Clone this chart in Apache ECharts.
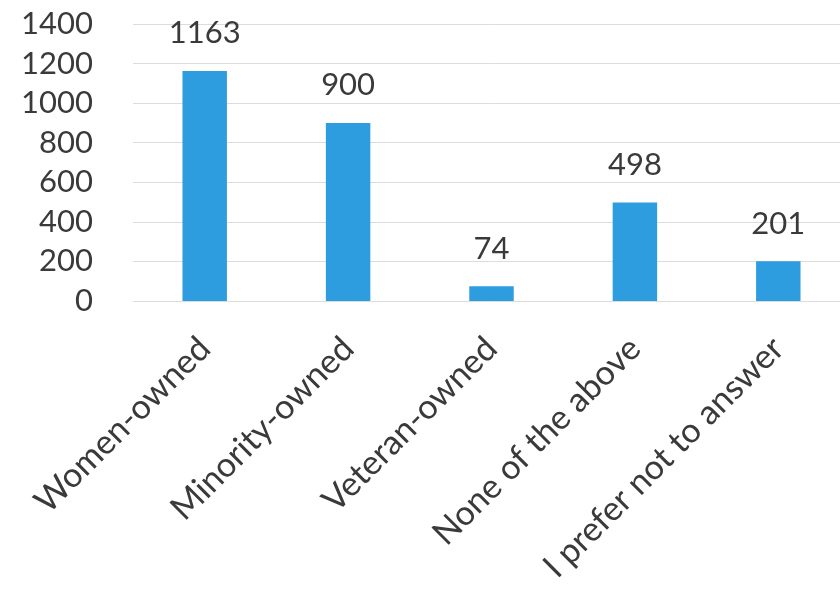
<!DOCTYPE html>
<html>
<head>
<meta charset="utf-8">
<script src="https://cdn.jsdelivr.net/npm/echarts@6/dist/echarts.min.js"></script>
<style>
  html, body { margin: 0; padding: 0; background: #fff; overflow: hidden; }
  #chart { width: 850px; height: 589px; }
</style>
</head>
<body>
<div id="chart"></div>
<script>
  // data
  const categories = ['Women-owned', 'Minority-owned', 'Veteran-owned', 'None of the above', 'I prefer not to answer']
  const counts = [1163, 900, 74, 498, 201]
  const yTicks = [0, 200, 400, 600, 800, 1000, 1200, 1400]

  const font = 'Lato, "Open Sans", sans-serif'
  const textColor = '#3a3a3a'

  let myChart = echarts.init(document.getElementById('chart'))
  myChart.setOption({
    animation: false,
    grid: {
      left: 133,
      right: 0,
      top: 24,
      bottom: 288
    },
    xAxis: {
      type: 'category',
      data: categories,
      axisLine: { show: false },
      axisTick: { show: false },
      axisLabel: {
        rotate: 45,
        margin: 42,
        interval: 0,
        color: textColor,
        fontFamily: font,
        fontSize: 34
      }
    },
    yAxis: {
      type: 'value',
      min: yTicks[0],
      max: yTicks[yTicks.length - 1],
      interval: 200,
      axisLine: { show: false },
      axisTick: { show: false },
      splitLine: {
        lineStyle: { color: '#dcdcdc', width: 1 }
      },
      axisLabel: {
        margin: 40,
        color: textColor,
        fontFamily: font,
        fontSize: 31,
        formatter: v => String(v)
      }
    },
    series: [{
      type: 'bar',
      data: counts,
      barWidth: '31%',
      itemStyle: { color: '#2e9de0' },
      label: {
        show: true,
        position: 'top',
        distance: 22,
        color: textColor,
        fontFamily: font,
        fontSize: 31
      }
    }]
  })
</script>
</body>
</html>
